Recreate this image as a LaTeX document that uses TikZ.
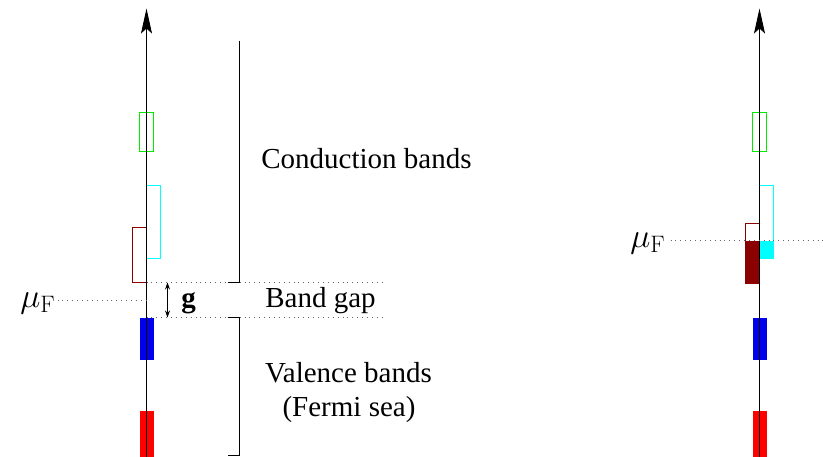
\RequirePackage{fix-cm}
\documentclass[tikz,border=0pt]{standalone}
\usepackage[no-math]{fontspec}
\setmainfont{Liberation Serif}
\usetikzlibrary{arrows.meta,positioning}
\definecolor{bgreen}{RGB}{0,235,0}
\definecolor{bcyan}{RGB}{0,255,255}
\definecolor{bdred}{RGB}{139,0,0}
\definecolor{bblue}{RGB}{0,0,235}
\definecolor{bred}{RGB}{255,0,0}
\tikzset{
  axis/.style={line width=.9pt,black,-{Stealth[length=25pt,width=11pt,inset=5pt]}},
  band/.style={rectangle,draw=#1,line width=1.3pt,minimum width=14pt,inner sep=0pt},
  bandfill/.style={rectangle,fill=#1,minimum width=14pt,inner sep=0pt},
  gapline/.style={line width=.9pt,black!60,dash pattern=on .9pt off 4pt},
  brk/.style={line width=.9pt,black},
  gaparrow/.style={line width=.9pt,{Stealth[length=7pt,width=5pt]}-{Stealth[length=7pt,width=5pt]}},
  lab/.style={font=\fontsize{29}{35}\selectfont,inner sep=0pt,anchor=base},
  mulab/.style={font=\fontsize{34}{40}\selectfont,inner sep=0pt,anchor=base east}
}
\begin{document}
\begin{tikzpicture}[x=1pt,y=-1pt]
  \useasboundingbox (0,0) rectangle (823,456);
  \begin{scope}[shift={(0.5,0.5)}]
  % insulator
  \node[band=bgreen,minimum height=39pt] (grL) at (146,131.5) {};
  \node[band=bcyan,minimum height=73pt] (cyL) at (153,221.5) {};
  \node[band=bdred,minimum height=55pt] (drL) at (139,254.5) {};
  \node[bandfill=bblue,minimum height=42pt] (blL) at (146,338) {};
  \node[bandfill=bred,minimum height=60pt] (rdL) at (146,440) {};
  \coordinate (botL) at (146,456);
  \coordinate (topL) at (146,8);
  \draw[axis] (botL) -- (topL);

  \coordinate (gapHiL) at (146,282);
  \coordinate (gapHiR) at (385,282);
  \coordinate (gapLoL) at (146,317);
  \coordinate (gapLoR) at (385,317);
  \draw[gapline] (gapHiL) -- (gapHiR);
  \draw[gapline] (gapLoL) -- (gapLoR);

  \node[mulab] (muL) at (55,307) {$\mu_{\mathrm{F}}$};
  \coordinate (muLa) at (57,300);
  \coordinate (muLb) at (146,300);
  \draw[gapline] (muLa) -- (muLb);

  \coordinate (gTop) at (167,282);
  \coordinate (gBot) at (167,317);
  \draw[gaparrow] (gBot) -- (gTop);
  \node[lab] (g) at (188,307) {\textbf{g}};

  \coordinate (cbTop) at (239,40);
  \coordinate (cbBot) at (239,282);
  \coordinate (cbTick) at (227,282);
  \draw[brk] (cbTop) -- (cbBot) -- (cbTick);
  \coordinate (vbTop) at (239,317);
  \coordinate (vbTopT) at (227,317);
  \coordinate (vbBot) at (239,455);
  \coordinate (vbBotT) at (227,455);
  \draw[brk] (vbTopT) -- (vbTop) -- (vbBot) -- (vbBotT);

  \node[lab] (cond) at (366,168) {Conduction bands};
  \node[lab] (gap) at (320,307) {Band gap};
  \node[lab] (val) at (348,382) {Valence bands};
  \node[lab] (sea) at (348.5,416) {(Fermi sea)};

  % metal
  \node[band=bgreen,minimum height=39pt] (grR) at (759,131.5) {};
  \node[bandfill=bcyan,minimum height=18pt] (cyRf) at (766,249) {};
  \node[band=bcyan,minimum height=73pt] (cyR) at (766,221.5) {};
  \node[bandfill=bdred,minimum height=43pt] (drRf) at (752,261.5) {};
  \node[band=bdred,minimum height=60pt] (drR) at (752,253) {};
  \node[bandfill=bblue,minimum height=42pt] (blR) at (759,338) {};
  \node[bandfill=bred,minimum height=60pt] (rdR) at (759,440) {};
  \coordinate (botR) at (759,456);
  \coordinate (topR) at (759,8);
  \draw[axis] (botR) -- (topR);

  \node[mulab] (muR) at (665,247) {$\mu_{\mathrm{F}}$};
  \coordinate (muRa) at (670,240);
  \coordinate (muRb) at (823,240);
  \draw[gapline] (muRa) -- (muRb);
  \end{scope}
\end{tikzpicture}
\end{document}
